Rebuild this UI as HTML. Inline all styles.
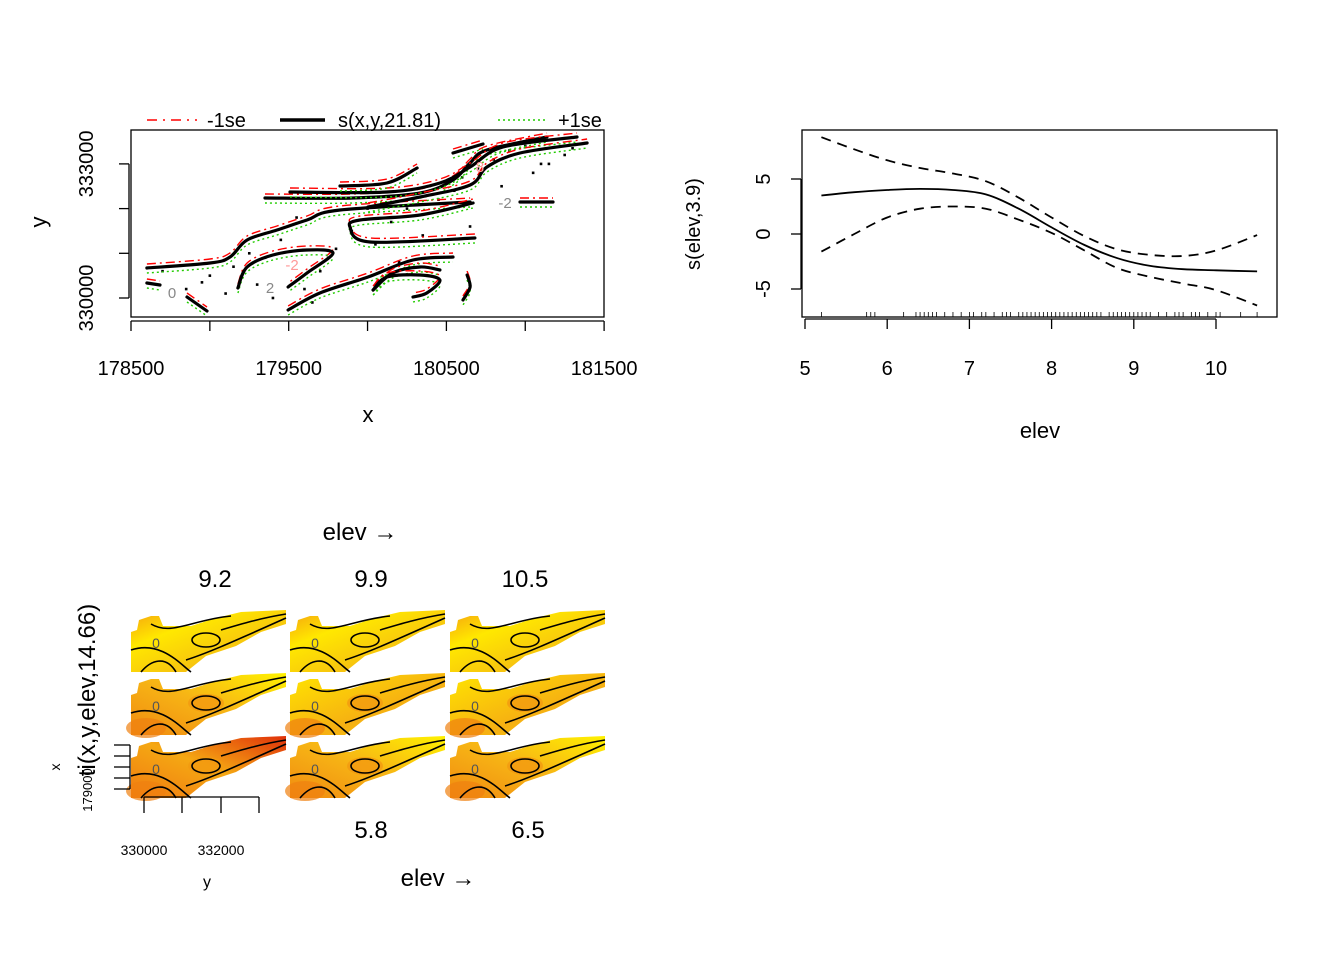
<!DOCTYPE html>
<html><head><meta charset="utf-8">
<style>
html,body{margin:0;padding:0;background:#fff;}
svg{display:block;font-family:"Liberation Sans",Arial,sans-serif;}
</style></head>
<body>
<svg id="root" width="1344" height="960" viewBox="0 0 1344 960" xmlns="http://www.w3.org/2000/svg">
<defs>
  <linearGradient id="gA" x1="0" y1="1" x2="1" y2="0">
    <stop offset="0" stop-color="#f08a10"/><stop offset="0.5" stop-color="#f7b515"/><stop offset="1" stop-color="#fff200"/>
  </linearGradient>
  <linearGradient id="gB" x1="0" y1="0" x2="1" y2="1">
    <stop offset="0" stop-color="#ffe500"/><stop offset="0.6" stop-color="#f6b012"/><stop offset="1" stop-color="#f9d60a"/>
  </linearGradient>
  <linearGradient id="gY" x1="0" y1="0" x2="1" y2="1">
    <stop offset="0" stop-color="#f5a010"/><stop offset="0.3" stop-color="#ffe800"/><stop offset="0.7" stop-color="#f6c010"/><stop offset="1" stop-color="#ffee00"/>
  </linearGradient>
  <linearGradient id="gC" x1="0" y1="1" x2="1" y2="0">
    <stop offset="0" stop-color="#f07a10"/><stop offset="0.5" stop-color="#f5a813"/><stop offset="1" stop-color="#e0300a"/>
  </linearGradient>
</defs>
<g id="tl"></g>
<g id="tr"></g>
<g id="bl"></g>
</svg>
<script>
// ---------- Top-right chart data: s(elev,3.9) ----------
const elevGrid = [5.2, 5.6, 6.0, 6.4, 6.8, 7.2, 7.6, 8.0, 8.4, 8.8, 9.2, 9.6, 10.0, 10.5];
const fitVals  = [3.5, 3.8, 4.0, 4.1, 4.0, 3.6, 2.3, 0.6, -1.0, -2.2, -2.9, -3.2, -3.3, -3.4];
const upperVals= [8.8, 7.7, 6.7, 6.0, 5.5, 4.8, 3.3, 1.5, -0.2, -1.4, -1.9, -2.0, -1.5, -0.1];
const lowerVals= [-1.6, 0.0, 1.5, 2.3, 2.5, 2.3, 1.3, 0.1, -1.5, -3.1, -3.9, -4.5, -5.1, -6.5];
const rugVals  = [5.2,5.75,5.8,5.85,6.2,6.35,6.4,6.45,6.5,6.55,6.6,6.7,6.8,6.9,7.0,7.05,7.15,7.2,7.3,7.4,7.45,7.5,7.6,7.65,7.7,7.75,7.8,7.85,7.9,7.95,8.0,8.05,8.1,8.15,8.2,8.25,8.3,8.35,8.4,8.45,8.5,8.55,8.6,8.7,8.75,8.8,8.85,8.9,8.95,9.0,9.05,9.1,9.15,9.2,9.3,9.4,9.5,9.55,9.6,9.7,9.75,9.8,9.9,10.0,10.05,10.3,10.5];
const elevTicks = [5,6,7,8,9,10];
const sTicks = [-5,0,5];

// ---------- Top-left chart data: s(x,y,21.81) contours ----------
const xTicks = [178500,179000,179500,180000,180500,181000,181500];
const xTickLabels = ["178500","179500","180500","181500"];
const xLabelVals = [178500,179500,180500,181500];
const yTicks = [330000,331000,332000,333000];
const yLabelVals = [330000,333000];
const contourX = [
 [178601,179001,179128,179236,179426,179616,179825,180650],
 [179350,179908,180333,180542,180650,180757,181138],
 [179508,180123,180459,180650,180859,181328],
 [179825,180123,180314],
 [180542,180732],
 [180003,180333,180650,180757,180967,181392],
 [180967,181176],
 [180681,180016,179889,179952,180333,180669],
 [179178,179236,179400,179616,179781,179616,179496],
 [179496,179698,180003,180288,180542],
 [180035,180159,180333,180459],
 [180035,180123,180333,180459,180376,180288],
 [180631,180650,180605],
 [178601,178684],
 [178855,178982]
];
const contourY = [
 [330671,330783,330917,331297,331521,331745,331969,332148],
 [332237,332237,332349,332640,333020,333311,333602],
 [332371,332371,332573,332930,333378,333602],
 [332505,332573,332908],
 [333244,333445],
 [332036,332259,332528,332930,333244,333467],
 [332148,332148],
 [331342,331253,331588,331745,331857,332125],
 [330224,330693,330962,331074,331007,330559,330246],
 [329732,330112,330470,330850,330917],
 [330179,330559,330693,330626],
 [330179,330470,330515,330403,330112,330022],
 [330515,330246,329955],
 [330336,330290],
 [330022,329709]
];
const ptX = [178700,178850,179000,179100,179150,179300,179350,179450,179600,179700,179800,179900,180050,180150,180250,180350,180450,180550,180600,180700,180800,180900,181000,181050,181150,181250,181300,178950,179250,179550,179750,180000,180200,180400,180650,180850,181100,179400,179650];
const ptY = [330600,330200,330500,330100,330700,330300,330900,331300,330200,330600,331100,331500,331200,331700,332000,331400,332200,332400,332700,332900,333100,333300,333400,332800,333000,333200,333350,330350,331000,331800,330900,332000,330800,331900,331600,332500,333000,330000,329900];

// ---------- helpers ----------
const NS="http://www.w3.org/2000/svg";
function mk(parent, tag, attrs){const e=document.createElementNS(NS,tag);for(const k in attrs)e.setAttribute(k,attrs[k]);parent.appendChild(e);return e;}
function txt(parent, x,y,s,size,anchor,rot){const t=mk(parent,'text',{x:x,y:y,'font-size':size,'text-anchor':anchor||'middle',fill:'#000'});if(rot)t.setAttribute('transform','rotate(-90 '+x+' '+y+')');t.textContent=s;return t;}
function smooth(pts){
  if(pts.length<3) return pts.map((p,i)=>(i?'L':'M')+p[0].toFixed(1)+','+p[1].toFixed(1)).join('');
  let d='M'+pts[0][0].toFixed(1)+','+pts[0][1].toFixed(1);
  for(let i=0;i<pts.length-1;i++){
    const p0=pts[i-1]||pts[i],p1=pts[i],p2=pts[i+1],p3=pts[i+2]||p2;
    const c1=[p1[0]+(p2[0]-p0[0])/6,p1[1]+(p2[1]-p0[1])/6],c2=[p2[0]-(p3[0]-p1[0])/6,p2[1]-(p3[1]-p1[1])/6];
    d+='C'+c1[0].toFixed(1)+','+c1[1].toFixed(1)+' '+c2[0].toFixed(1)+','+c2[1].toFixed(1)+' '+p2[0].toFixed(1)+','+p2[1].toFixed(1);
  }
  return d;
}

// ===== Top-right =====
(function(){
 const g=document.getElementById('tr');
 const X=v=>805+(v-5)*82.2, Y=v=>234-v*11;
 const box=mk(g,'rect',{x:802,y:130,width:475,height:187,fill:'none',stroke:'#000','stroke-width':1.3});
 
 const xa=mk(g,'line',{x1:X(5),x2:X(10),y1:319,y2:319,stroke:'#000','stroke-width':1.3});
 
 elevTicks.forEach(v=>{mk(g,'line',{x1:X(v),x2:X(v),y1:319,y2:329,stroke:'#000','stroke-width':1.3});
   const t=txt(g,X(v),375,String(v),20);});
 mk(g,'line',{x1:801,x2:801,y1:Y(5),y2:Y(-5),stroke:'#000','stroke-width':1.3});
 sTicks.forEach(v=>{mk(g,'line',{x1:791,x2:801,y1:Y(v),y2:Y(v),stroke:'#000','stroke-width':1.3});
   const t=txt(g,770,Y(v),String(v),20,'middle',true);});
 const xl=txt(g,1040,438,'elev',22);
 const yl=txt(g,700,224,'s(elev,3.9)',20,'middle',true);
 const path=vals=>smooth(elevGrid.map((e,i)=>[X(e),Y(vals[i])]));
 const f=mk(g,'path',{d:path(fitVals),fill:'none',stroke:'#000','stroke-width':1.8});
 
 const u=mk(g,'path',{d:path(upperVals),fill:'none',stroke:'#000','stroke-width':1.8,'stroke-dasharray':'10,7'});
 
 const l=mk(g,'path',{d:path(lowerVals),fill:'none',stroke:'#000','stroke-width':1.8,'stroke-dasharray':'10,7'});
 
 rugVals.forEach(v=>{const r=mk(g,'line',{x1:X(v),x2:X(v),y1:312,y2:317,stroke:'#000','stroke-width':0.8});
   });
})();

// ===== Top-left =====
(function(){
 const g=document.getElementById('tl');
 const X=v=>131+(v-178500)*0.15770, Y=v=>298-(v-330000)*0.04470;
 const box=mk(g,'rect',{x:131,y:130,width:473,height:187,fill:'none',stroke:'#000','stroke-width':1.3});
 
 mk(g,'line',{x1:131,x2:604,y1:321,y2:321,stroke:'#000','stroke-width':1.3});
 xTicks.forEach(v=>mk(g,'line',{x1:X(v),x2:X(v),y1:321,y2:331,stroke:'#000','stroke-width':1.3}));
 xLabelVals.forEach((v,i)=>{const t=txt(g,X(v),375,xTickLabels[i],20);});
 mk(g,'line',{x1:129,x2:129,y1:Y(330000),y2:Y(333000),stroke:'#000','stroke-width':1.3});
 yTicks.forEach(v=>mk(g,'line',{x1:119,x2:129,y1:Y(v),y2:Y(v),stroke:'#000','stroke-width':1.3}));
 yLabelVals.forEach(v=>{const t=txt(g,93,Y(v),String(v),20,'middle',true);});
 const xl=txt(g,368,422,'x',22);
 const yl=txt(g,46,222,'y',22,'middle',true);
 ptX.forEach((x,i)=>{const p=mk(g,'rect',{x:X(x)-1.3,y:Y(ptY[i])-1.3,width:2.6,height:2.6,fill:'#000'});
   });
 const pathOf=(xs,ys,dy)=>smooth(xs.map((x,j)=>[X(x),Y(ys[j])+dy]));
 contourX.forEach((xs,i)=>{
   const r=mk(g,'path',{d:pathOf(xs,contourY[i],-4),fill:'none',stroke:'#ff0000','stroke-width':1.4,'stroke-dasharray':'9,4,2,4'});
   
   const gr=mk(g,'path',{d:pathOf(xs,contourY[i],5),fill:'none',stroke:'#22cc00','stroke-width':1.4,'stroke-dasharray':'2,3'});
   
   const b=mk(g,'path',{d:pathOf(xs,contourY[i],0),fill:'none',stroke:'#000','stroke-width':3.2,'stroke-linecap':'round'});
   
 });
 [[172,298,'0','#888'],[270,293,'2','#888'],[505,208,'-2','#888'],[292,270,'-2','#f99'],[480,172,'8','#f99']].forEach(a=>{
   const t=mk(g,'text',{x:a[0],y:a[1],'font-size':15,fill:a[3],'text-anchor':'middle'});t.textContent=a[2];
   });
 const lg=mk(g,'g',{});
 mk(lg,'line',{x1:147,x2:197,y1:120,y2:120,stroke:'#ff0000','stroke-width':1.6,'stroke-dasharray':'10,6,2,6'});
 txt(lg,207,127,'-1se',20,'start');
 mk(lg,'line',{x1:280,x2:325,y1:120,y2:120,stroke:'#000','stroke-width':3.5});
 txt(lg,338,127,'s(x,y,21.81)',20,'start');
 mk(lg,'line',{x1:498,x2:545,y1:120,y2:120,stroke:'#22cc00','stroke-width':1.6,'stroke-dasharray':'2,3'});
 txt(lg,558,127,'+1se',20,'start');
})();

// ===== Bottom-left panels =====
(function(){
 const g=document.getElementById('bl');
 const cols=[131,290,450], rows=[610,673,736];
 const shape="M0,62 L0,22 L6,20 L8,10 L20,6 L28,6 L32,16 L60,16 L85,8 L110,2 L155,0 L155,14 L130,22 L105,36 L75,46 L55,62 Z";
 const grads=[['gY','gY','gY'],['gA','gB','gB'],['gC','gA','gA']];
 rows.forEach((ry,r)=>cols.forEach((cx,c)=>{
   const p=mk(g,'g',{transform:'translate('+cx+','+ry+')'});
   
   mk(p,'path',{d:shape,fill:'url(#'+grads[r][c]+')'});
   if(r>0){mk(p,'ellipse',{cx:75,cy:30,rx:18,ry:9,fill:'#f29a10',opacity:0.8});
   mk(p,'ellipse',{cx:15,cy:55,rx:20,ry:10,fill:'#f08010',opacity:0.7});}
   mk(p,'ellipse',{cx:75,cy:30,rx:14,ry:7,fill:'none',stroke:'#000','stroke-width':1.6});
   mk(p,'path',{d:'M0,40 C30,30 50,55 60,62 M20,14 C40,26 60,10 100,6 M55,50 C80,42 110,28 155,8 M90,20 C110,14 130,8 155,4 M10,62 C20,50 35,45 45,62',fill:'none',stroke:'#000','stroke-width':1.6});
   const t=mk(p,'text',{x:25,y:38,'font-size':14,fill:'#555','text-anchor':'middle'});t.textContent='0';
 }));
 const lbls=[[360,540,'elev \u2192',24],[215,587,'9.2',24],[371,587,'9.9',24],[525,587,'10.5',24],[371,838,'5.8',24],[528,838,'6.5',24],[438,886,'elev \u2192',24],[144,855,'330000',14],[221,855,'332000',14],[207,887,'y',16]];
 lbls.forEach(a=>{const t=txt(g,a[0],a[1],a[2],a[3]);});
 const yt=txt(g,95,690,'ti(x,y,elev,14.66)',24,'middle',true);
 const xx=txt(g,60,767,'x',14,'middle',true);
 const xv=txt(g,92,790,'179000',13,'middle',true);
 mk(g,'line',{x1:130,x2:130,y1:745,y2:789,stroke:'#000','stroke-width':1.3});
 [745,756,767,778,789].forEach(y=>mk(g,'line',{x1:114,x2:130,y1:y,y2:y,stroke:'#000','stroke-width':1.3}));
 mk(g,'line',{x1:144,x2:259,y1:797,y2:797,stroke:'#000','stroke-width':1.3});
 [144,182,221,259].forEach(x=>mk(g,'line',{x1:x,x2:x,y1:797,y2:813,stroke:'#000','stroke-width':1.3}));
})();
</script>
</body></html>
